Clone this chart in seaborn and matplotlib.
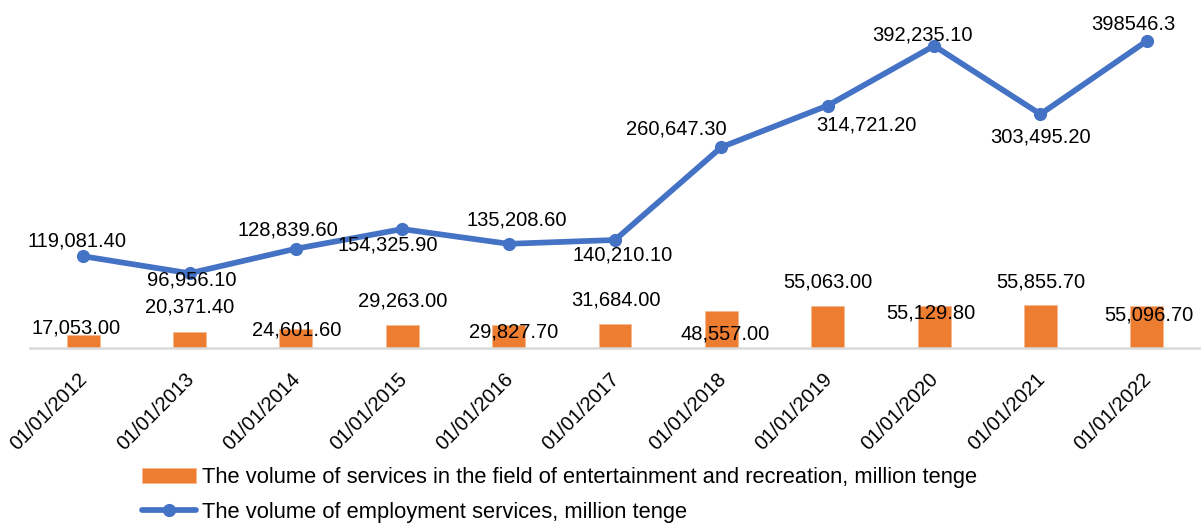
import matplotlib
matplotlib.use("Agg")
import matplotlib.pyplot as plt
import matplotlib.transforms as mtransforms
import seaborn as sns
import pandas as pd
import numpy as np

# ---- data ----
dates = ["01/01/2012", "01/01/2013", "01/01/2014", "01/01/2015", "01/01/2016",
         "01/01/2017", "01/01/2018", "01/01/2019", "01/01/2020", "01/01/2021",
         "01/01/2022"]
entertainment = [17053.00, 20371.40, 24601.60, 29263.00, 29827.70, 31684.00,
                 48557.00, 55063.00, 55129.80, 55855.70, 55096.70]
employment = [119081.40, 96956.10, 128839.60, 154325.90, 135208.60, 140210.10,
              260647.30, 314721.20, 392235.10, 303495.20, 398546.3]
entertainment_labels = ["17,053.00", "20,371.40", "24,601.60", "29,263.00", "29,827.70",
                        "31,684.00", "48,557.00", "55,063.00", "55,129.80", "55,855.70",
                        "55,096.70"]
employment_labels = ["119,081.40", "96,956.10", "128,839.60", "154,325.90", "135,208.60",
                     "140,210.10", "260,647.30", "314,721.20", "392,235.10", "303,495.20",
                     "398546.3"]
bar_name = "The volume of services in the field of entertainment and recreation, million tenge"
line_name = "The volume of employment services, million tenge"

# ---- label offsets (image pixels: dx right, dy down) ----
bar_offsets = [(-7, -7), (0, -25), (1, 1), (0, -24), (5, 7), (1, -24),
               (4, 23), (0, -24), (-3, 7), (0, -23), (2, 9)]
line_offsets = [(-6, -15), (2, 7), (-8, -19), (-15, 16), (8, -24), (8, 15),
                (-45, -18), (39, 19), (-12, -11), (0, 23), (-13, -16)]

ORANGE = "#ED7D31"
BLUE = "#4472C4"
FONT = ["Liberation Sans", "DejaVu Sans"]
LABEL_FS = 14.5
LEGEND_FS = 15.75

sns.set_theme(style="white")
plt.rcParams["font.family"] = FONT
plt.rcParams["text.color"] = "black"

W, H = 1201, 527
fig = plt.figure(figsize=(W / 100, H / 100), dpi=100)
ax_left, ax_right = 30, 1200
ax_bottom, ax_top = 348, 9
ax = fig.add_axes([ax_left / W, 1 - ax_bottom / H,
                   (ax_right - ax_left) / W, (ax_bottom - ax_top) / H])

df = pd.DataFrame({"date": dates, "ent": entertainment, "emp": employment,
                   "idx": np.arange(len(dates))})

sns.barplot(data=df, x="date", y="ent", color=ORANGE, width=0.31,
            saturation=1, edgecolor="#F6B88E", linewidth=0.6, ax=ax)
sns.lineplot(data=df, x="idx", y="emp", color=BLUE, linewidth=4.1,
             marker="o", markersize=9.5, markeredgewidth=0, ax=ax)

ax.set_xlim(-0.5, len(dates) - 0.5)
ax.set_ylim(0, 440000)
ax.set_xlabel("")
ax.set_ylabel("")
ax.set_yticks([])
ax.set_xticks(range(len(dates)))
ax.set_xticklabels(dates, rotation=45, ha="right", va="center",
                   rotation_mode="anchor", fontsize=LABEL_FS, color="black")
ax.tick_params(axis="x", length=0, pad=20.5)
shift = mtransforms.ScaledTranslation(1.5 / 100, 0, fig.dpi_scale_trans)
for t in ax.get_xticklabels():
    t.set_transform(t.get_transform() + shift)
for s in ["top", "right", "left"]:
    ax.spines[s].set_visible(False)
ax.spines["bottom"].set_color("#D9D9D9")
ax.spines["bottom"].set_linewidth(1.8)

for i, (v, lab) in enumerate(zip(entertainment, entertainment_labels)):
    dx, dy = bar_offsets[i]
    ax.annotate(lab, (i, v), xytext=(dx, -dy), textcoords="offset pixels",
                ha="center", va="center", fontsize=LABEL_FS, color="black", zorder=5)
for i, (v, lab) in enumerate(zip(employment, employment_labels)):
    dx, dy = line_offsets[i]
    ax.annotate(lab, (i, v), xytext=(dx, -dy), textcoords="offset pixels",
                ha="center", va="center", fontsize=LABEL_FS, color="black", zorder=5)

line_handle = [l for l in ax.lines if l.get_marker() == "o"][0]
handles = [ax.containers[0], line_handle]
leg = fig.legend(handles, [bar_name, line_name], loc="upper left",
                 bbox_to_anchor=(142 / W, 1 - 467 / H), frameon=False,
                 borderpad=0, borderaxespad=0, handlelength=2.45,
                 handletextpad=0.3, labelspacing=0.62, fontsize=LEGEND_FS)
for txt in leg.get_texts():
    txt.set_color("black")

fig.savefig("out.png", dpi=100)
